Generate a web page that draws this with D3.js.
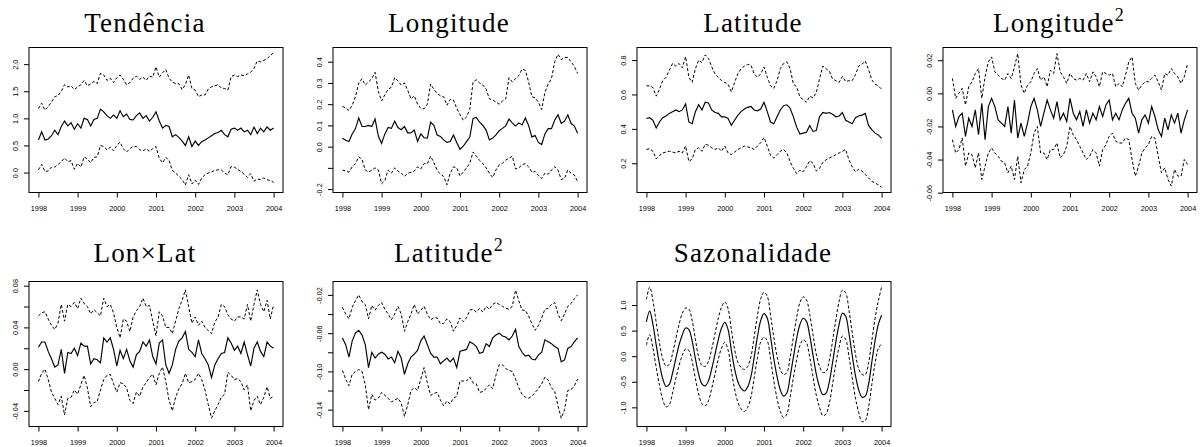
<!DOCTYPE html>
<html>
<head>
<meta charset="utf-8">
<script src="https://cdn.jsdelivr.net/npm/d3@7"></script>
<style>
  html, body { margin: 0; padding: 0; background: #fff; }
  svg { display: block; opacity: 0.999; }
  .title { font-family: "Liberation Serif", "Times New Roman", serif; font-size: 27px; letter-spacing: 1.2px; fill: #000; }
  .tick text { font-family: "Liberation Sans", Arial, Helvetica, sans-serif; font-size: 7.3px; fill: #000; }
  .tick line { stroke: #000; }
</style>
</head>
<body>
<svg id="chart" width="1201" height="447"></svg>
<script>
// Monthly estimates, Jan 1998 .. Jan 2004 (73 values per series)

// Tendência
const trendFit = [0.60,0.75,0.60,0.62,0.68,0.78,0.70,0.85,0.95,0.86,
  0.92,0.80,0.90,0.82,1.00,0.98,0.86,0.98,1.00,1.17,
  1.12,1.05,1.00,1.06,1.00,1.14,1.03,1.08,0.98,0.97,
  1.05,1.10,1.00,1.05,0.95,1.02,1.12,0.95,0.82,0.87,
  0.85,0.66,0.70,0.65,0.58,0.50,0.66,0.48,0.58,0.50,
  0.57,0.60,0.64,0.68,0.72,0.74,0.78,0.70,0.66,0.80,
  0.82,0.78,0.82,0.75,0.78,0.70,0.84,0.72,0.82,0.75,
  0.84,0.78,0.82];
const trendUpper = [1.18,1.28,1.15,1.22,1.30,1.40,1.42,1.50,1.62,1.58,
  1.60,1.53,1.58,1.62,1.70,1.60,1.64,1.68,1.64,1.83,
  1.80,1.70,1.74,1.66,1.75,1.80,1.72,1.62,1.66,1.74,
  1.78,1.72,1.76,1.70,1.78,1.76,1.95,1.76,1.84,1.90,
  1.74,1.67,1.64,1.64,1.53,1.62,1.80,1.55,1.52,1.40,
  1.43,1.43,1.54,1.58,1.60,1.62,1.56,1.55,1.52,1.77,
  1.80,1.77,1.80,1.79,1.82,1.85,1.92,2.06,2.04,2.07,
  2.10,2.16,2.21];
const trendLower = [0.05,0.15,0.02,0.03,0.10,0.10,0.15,0.20,0.27,0.20,
  0.22,0.06,0.17,0.10,0.29,0.25,0.18,0.28,0.29,0.50,
  0.48,0.42,0.47,0.40,0.50,0.56,0.44,0.38,0.44,0.48,
  0.48,0.42,0.40,0.44,0.39,0.44,0.48,0.26,0.18,0.28,
  0.22,0.04,-0.01,-0.07,-0.13,-0.23,-0.04,-0.21,-0.14,-0.22,
  -0.10,-0.04,-0.01,0.01,0.04,0.05,0.05,-0.01,-0.04,0.11,
  0.10,0.06,0.02,-0.03,-0.09,-0.02,-0.16,-0.12,-0.13,-0.10,
  -0.13,-0.15,-0.18];

// Longitude
const lonFit = [0.040,0.030,0.024,0.060,0.085,0.135,0.095,0.095,0.100,0.095,
  0.130,0.050,0.015,0.060,0.090,0.086,0.120,0.090,0.080,0.095,
  0.065,0.065,0.078,0.025,0.060,0.042,0.040,0.115,0.100,0.055,
  0.048,0.032,0.020,0.024,0.055,0.020,-0.012,0.002,0.024,0.045,
  0.133,0.138,0.115,0.100,0.078,0.032,0.040,0.055,0.075,0.086,
  0.098,0.130,0.112,0.097,0.112,0.102,0.135,0.100,0.046,0.052,
  0.020,0.010,0.060,0.085,0.085,0.125,0.150,0.110,0.120,0.150,
  0.110,0.097,0.063];
const lonUpper = [0.190,0.182,0.170,0.195,0.235,0.300,0.320,0.290,0.305,0.320,
  0.350,0.260,0.215,0.245,0.270,0.280,0.325,0.310,0.290,0.300,
  0.265,0.225,0.240,0.200,0.180,0.178,0.200,0.295,0.270,0.250,
  0.240,0.235,0.195,0.222,0.220,0.180,0.150,0.125,0.140,0.175,
  0.305,0.315,0.300,0.290,0.270,0.225,0.220,0.210,0.200,0.215,
  0.225,0.325,0.305,0.320,0.335,0.365,0.360,0.305,0.235,0.230,
  0.210,0.175,0.255,0.295,0.320,0.400,0.435,0.410,0.420,0.420,
  0.400,0.378,0.345];
const lonLower = [-0.110,-0.115,-0.120,-0.095,-0.080,-0.048,-0.060,-0.110,-0.120,-0.110,
  -0.100,-0.110,-0.175,-0.160,-0.110,-0.125,-0.100,-0.115,-0.125,-0.140,
  -0.125,-0.122,-0.115,-0.095,-0.105,-0.080,-0.080,-0.045,-0.075,-0.112,
  -0.130,-0.140,-0.180,-0.125,-0.095,-0.100,-0.138,-0.120,-0.100,-0.078,
  -0.025,-0.045,-0.065,-0.080,-0.100,-0.125,-0.145,-0.110,-0.086,-0.078,
  -0.063,-0.055,-0.045,-0.105,-0.100,-0.085,-0.080,-0.095,-0.120,-0.117,
  -0.135,-0.150,-0.125,-0.130,-0.110,-0.095,-0.110,-0.155,-0.150,-0.110,
  -0.125,-0.133,-0.165];

// Latitude
const latFit = [0.460,0.465,0.450,0.405,0.440,0.465,0.475,0.490,0.500,0.510,
  0.500,0.510,0.545,0.440,0.430,0.500,0.540,0.510,0.555,0.550,
  0.510,0.495,0.490,0.470,0.470,0.460,0.420,0.450,0.480,0.500,
  0.515,0.525,0.530,0.510,0.505,0.515,0.555,0.500,0.440,0.430,
  0.470,0.510,0.535,0.540,0.520,0.470,0.410,0.370,0.375,0.380,
  0.420,0.385,0.390,0.470,0.495,0.490,0.495,0.485,0.470,0.475,
  0.495,0.450,0.440,0.430,0.465,0.475,0.480,0.490,0.420,0.395,
  0.375,0.365,0.345];
const latUpper = [0.650,0.650,0.640,0.590,0.630,0.680,0.700,0.740,0.780,0.765,
  0.780,0.755,0.820,0.700,0.670,0.750,0.800,0.785,0.830,0.810,
  0.760,0.720,0.700,0.680,0.670,0.660,0.615,0.670,0.720,0.750,
  0.765,0.775,0.770,0.720,0.700,0.720,0.760,0.700,0.650,0.635,
  0.680,0.750,0.780,0.790,0.750,0.660,0.645,0.585,0.570,0.555,
  0.590,0.580,0.610,0.690,0.765,0.750,0.735,0.690,0.680,0.670,
  0.705,0.675,0.680,0.680,0.715,0.765,0.775,0.795,0.745,0.685,
  0.660,0.650,0.630];
const latLower = [0.280,0.285,0.270,0.225,0.245,0.260,0.265,0.270,0.265,0.260,
  0.270,0.260,0.300,0.210,0.225,0.280,0.290,0.270,0.310,0.305,
  0.290,0.280,0.290,0.270,0.300,0.260,0.250,0.265,0.280,0.290,
  0.300,0.295,0.290,0.280,0.300,0.320,0.350,0.300,0.245,0.230,
  0.250,0.270,0.280,0.260,0.210,0.170,0.140,0.160,0.150,0.180,
  0.215,0.200,0.155,0.170,0.205,0.220,0.230,0.240,0.250,0.260,
  0.270,0.280,0.220,0.180,0.150,0.165,0.155,0.135,0.115,0.095,
  0.085,0.075,0.060];

// Longitude²
const lon2Fit = [-0.010,-0.020,-0.014,-0.012,-0.026,-0.015,-0.020,-0.010,-0.025,-0.006,
  -0.028,-0.008,-0.003,-0.008,-0.016,-0.018,-0.020,-0.008,-0.024,-0.004,
  -0.027,-0.018,-0.026,-0.018,-0.008,-0.003,-0.010,-0.020,-0.012,-0.004,
  -0.010,-0.015,-0.005,-0.016,-0.012,-0.017,-0.003,-0.012,-0.016,-0.011,
  -0.020,-0.010,-0.018,-0.012,-0.016,-0.008,-0.014,-0.007,-0.004,-0.016,
  -0.012,-0.016,-0.010,-0.006,-0.003,-0.012,-0.015,-0.024,-0.016,-0.013,
  -0.018,-0.008,-0.014,-0.022,-0.026,-0.015,-0.022,-0.013,-0.018,-0.012,
  -0.024,-0.016,-0.010];
const lon2Upper = [0.009,-0.003,0.000,0.003,-0.007,0.004,0.007,0.012,0.015,-0.003,
  0.010,0.019,0.022,0.013,0.011,0.009,0.008,0.012,0.009,0.016,
  0.024,0.005,0.000,0.005,0.007,0.012,0.015,0.008,0.010,0.004,
  0.014,0.012,0.024,0.013,0.010,0.006,0.012,0.009,0.008,0.009,
  0.008,0.012,0.007,0.013,0.010,0.004,0.013,0.012,0.011,0.012,
  0.004,0.006,0.004,0.011,0.019,0.022,0.006,0.002,0.005,0.007,
  0.007,0.009,0.011,0.007,0.002,0.012,0.011,0.015,0.012,0.010,
  0.006,0.010,0.018];
const lon2Lower = [-0.028,-0.036,-0.034,-0.027,-0.044,-0.036,-0.037,-0.045,-0.036,-0.052,
  -0.044,-0.036,-0.033,-0.036,-0.038,-0.041,-0.042,-0.048,-0.044,-0.052,
  -0.038,-0.054,-0.046,-0.044,-0.036,-0.024,-0.020,-0.036,-0.036,-0.040,
  -0.034,-0.034,-0.030,-0.039,-0.037,-0.032,-0.020,-0.025,-0.028,-0.032,
  -0.036,-0.040,-0.038,-0.034,-0.036,-0.044,-0.034,-0.031,-0.026,-0.024,
  -0.029,-0.030,-0.030,-0.027,-0.028,-0.040,-0.050,-0.044,-0.036,-0.033,
  -0.031,-0.026,-0.027,-0.038,-0.048,-0.045,-0.052,-0.056,-0.046,-0.050,
  -0.050,-0.040,-0.043];

// Lon×Lat
const lonLatFit = [0.021,0.026,0.026,0.017,0.010,0.002,0.004,0.019,-0.004,0.016,
  0.015,0.020,0.013,0.025,0.022,0.022,0.005,0.010,0.009,0.006,
  0.030,0.026,0.030,0.019,0.003,0.018,0.010,0.019,0.008,0.002,
  0.014,0.017,0.026,0.022,0.028,0.012,0.005,0.025,0.028,0.004,
  -0.004,0.004,0.019,0.027,0.030,0.036,0.019,0.016,0.012,0.028,
  0.015,0.010,0.004,-0.008,0.004,0.010,0.015,0.016,0.030,0.025,
  0.018,0.022,0.015,0.026,0.014,0.003,0.020,0.026,0.017,0.012,
  0.026,0.022,0.020];
const lonLatUpper = [0.051,0.054,0.055,0.048,0.042,0.038,0.044,0.062,0.046,0.062,
  0.060,0.064,0.058,0.068,0.063,0.060,0.053,0.057,0.054,0.051,
  0.068,0.060,0.062,0.054,0.040,0.030,0.048,0.046,0.036,0.050,
  0.056,0.060,0.068,0.060,0.061,0.046,0.032,0.055,0.051,0.040,
  0.040,0.034,0.046,0.058,0.066,0.076,0.060,0.044,0.050,0.042,
  0.046,0.040,0.037,0.034,0.045,0.050,0.062,0.060,0.052,0.048,
  0.046,0.050,0.050,0.048,0.062,0.046,0.062,0.076,0.062,0.055,
  0.066,0.048,0.062];
const lonLatLower = [-0.012,-0.004,0.000,-0.010,-0.022,-0.028,-0.034,-0.026,-0.044,-0.028,
  -0.027,-0.020,-0.024,-0.015,-0.006,-0.018,-0.036,-0.032,-0.031,-0.020,
  -0.010,-0.006,-0.005,-0.014,-0.022,-0.013,-0.014,-0.018,-0.030,-0.033,
  -0.022,-0.026,-0.017,-0.013,-0.008,-0.005,-0.015,-0.004,0.002,-0.012,
  -0.030,-0.040,-0.027,-0.019,-0.014,-0.004,-0.013,-0.012,-0.010,-0.004,
  -0.010,-0.020,-0.034,-0.047,-0.040,-0.034,-0.027,-0.024,-0.003,-0.006,
  -0.010,-0.009,-0.012,-0.020,-0.015,-0.040,-0.030,-0.026,-0.034,-0.027,
  -0.017,-0.028,-0.026];

// Latitude²
const lat2Fit = [-0.065,-0.072,-0.085,-0.068,-0.060,-0.057,-0.062,-0.072,-0.096,-0.080,
  -0.086,-0.082,-0.080,-0.082,-0.087,-0.085,-0.091,-0.079,-0.086,-0.103,
  -0.092,-0.085,-0.082,-0.078,-0.068,-0.063,-0.072,-0.081,-0.085,-0.085,
  -0.092,-0.089,-0.086,-0.090,-0.086,-0.096,-0.079,-0.078,-0.077,-0.069,
  -0.071,-0.074,-0.081,-0.080,-0.071,-0.074,-0.065,-0.062,-0.060,-0.063,
  -0.064,-0.067,-0.063,-0.056,-0.074,-0.080,-0.084,-0.083,-0.087,-0.088,
  -0.083,-0.080,-0.067,-0.069,-0.071,-0.074,-0.076,-0.090,-0.088,-0.076,
  -0.074,-0.069,-0.065];
const lat2Upper = [-0.033,-0.040,-0.045,-0.033,-0.026,-0.020,-0.027,-0.030,-0.045,-0.031,
  -0.036,-0.031,-0.028,-0.035,-0.040,-0.046,-0.040,-0.032,-0.040,-0.058,
  -0.048,-0.040,-0.030,-0.040,-0.036,-0.032,-0.040,-0.046,-0.044,-0.044,
  -0.050,-0.050,-0.045,-0.048,-0.058,-0.052,-0.044,-0.048,-0.044,-0.036,
  -0.035,-0.038,-0.034,-0.038,-0.032,-0.035,-0.030,-0.028,-0.030,-0.032,
  -0.034,-0.035,-0.032,-0.015,-0.026,-0.036,-0.036,-0.042,-0.050,-0.057,
  -0.052,-0.044,-0.035,-0.034,-0.030,-0.028,-0.040,-0.047,-0.040,-0.032,
  -0.029,-0.024,-0.020];
const lat2Lower = [-0.099,-0.108,-0.115,-0.103,-0.100,-0.098,-0.100,-0.114,-0.140,-0.124,
  -0.130,-0.128,-0.122,-0.125,-0.128,-0.132,-0.130,-0.128,-0.133,-0.147,
  -0.135,-0.120,-0.117,-0.120,-0.108,-0.096,-0.112,-0.125,-0.123,-0.122,
  -0.130,-0.136,-0.131,-0.134,-0.128,-0.126,-0.110,-0.110,-0.110,-0.106,
  -0.112,-0.113,-0.122,-0.121,-0.118,-0.114,-0.118,-0.104,-0.093,-0.093,
  -0.097,-0.099,-0.100,-0.108,-0.117,-0.124,-0.127,-0.128,-0.126,-0.122,
  -0.118,-0.113,-0.106,-0.109,-0.117,-0.121,-0.136,-0.149,-0.140,-0.120,
  -0.119,-0.115,-0.108];

// Sazonalidade
const seasonFit = [0.67,0.88,0.62,0.22,-0.15,-0.44,-0.59,-0.55,-0.33,-0.05,
  0.22,0.42,0.55,0.52,0.30,-0.05,-0.35,-0.54,-0.58,-0.48,
  -0.25,0.04,0.32,0.55,0.66,0.52,0.12,-0.25,-0.50,-0.63,
  -0.68,-0.60,-0.40,-0.02,0.38,0.70,0.83,0.74,0.38,-0.05,
  -0.40,-0.66,-0.78,-0.72,-0.40,-0.02,0.35,0.62,0.74,0.68,
  0.40,0.02,-0.35,-0.60,-0.75,-0.72,-0.50,-0.12,0.28,0.62,
  0.84,0.78,0.45,0.02,-0.38,-0.66,-0.80,-0.78,-0.55,-0.12,
  0.30,0.62,0.80];
const seasonUpper = [1.11,1.35,1.08,0.66,0.26,-0.05,-0.19,-0.16,0.05,0.34,
  0.62,0.84,0.94,0.92,0.70,0.33,-0.02,-0.18,-0.20,-0.10,
  0.14,0.44,0.74,0.96,1.06,0.93,0.52,0.13,-0.12,-0.22,
  -0.26,-0.20,-0.01,0.38,0.80,1.12,1.25,1.17,0.80,0.37,
  0.00,-0.26,-0.36,-0.32,-0.02,0.38,0.76,1.05,1.16,1.10,
  0.82,0.42,0.04,-0.20,-0.32,-0.30,-0.08,0.30,0.71,1.07,
  1.29,1.24,0.90,0.46,0.04,-0.25,-0.36,-0.36,-0.14,0.30,
  0.74,1.08,1.35];
const seasonLower = [0.22,0.42,0.16,-0.22,-0.57,-0.85,-0.99,-0.95,-0.72,-0.44,
  -0.18,0.02,0.14,0.11,-0.10,-0.44,-0.74,-0.93,-0.97,-0.87,
  -0.63,-0.35,-0.06,0.16,0.27,0.12,-0.28,-0.64,-0.90,-1.03,
  -1.08,-1.00,-0.80,-0.42,-0.03,0.28,0.37,0.30,-0.05,-0.48,
  -0.83,-1.08,-1.20,-1.13,-0.80,-0.42,-0.07,0.21,0.32,0.26,
  -0.02,-0.40,-0.76,-1.00,-1.16,-1.13,-0.92,-0.54,-0.15,0.18,
  0.39,0.33,0.00,-0.42,-0.82,-1.10,-1.28,-1.26,-1.00,-0.56,
  -0.14,0.15,0.24];

// Axis ticks
const years = [1998, 1999, 2000, 2001, 2002, 2003, 2004];
const months = d3.range(trendFit.length).map(i => 1998 + i / 12);

const panels = [
  { title: "Tendência", fit: trendFit, upper: trendUpper, lower: trendLower,
    yDomain: [-0.368, 2.307], yTicks: [0, 0.5, 1, 1.5, 2], yLabels: ["0.0", "0.5", "1.0", "1.5", "2.0"] },
  { title: "Longitude", fit: lonFit, upper: lonUpper, lower: lonLower,
    yDomain: [-0.216, 0.467], yTicks: [-0.2, -0.1, 0, 0.1, 0.2, 0.3, 0.4],
    yLabels: ["-0.2", "", "0.0", "0.1", "0.2", "0.3", "0.4"] },
  { title: "Latitude", fit: latFit, upper: latUpper, lower: latLower,
    yDomain: [0.030, 0.873], yTicks: [0.2, 0.4, 0.6, 0.8], yLabels: ["0.2", "0.4", "0.6", "0.8"] },
  { title: "Longitude", sup: "2", fit: lon2Fit, upper: lon2Upper, lower: lon2Lower,
    yDomain: [-0.0599, 0.0277], yTicks: [-0.06, -0.04, -0.02, 0, 0.02],
    yLabels: ["-0.06", "-0.04", "-0.02", "0.00", "0.02"] },
  { title: "Lon×Lat", fit: lonLatFit, upper: lonLatUpper, lower: lonLatLower,
    yDomain: [-0.055, 0.084], yTicks: [-0.04, -0.02, 0, 0.02, 0.04, 0.06, 0.08],
    yLabels: ["-0.04", "", "0.00", "", "0.04", "", "0.08"] },
  { title: "Latitude", sup: "2", fit: lat2Fit, upper: lat2Upper, lower: lat2Lower,
    yDomain: [-0.1576, -0.006], yTicks: [-0.14, -0.12, -0.10, -0.08, -0.06, -0.04, -0.02],
    yLabels: ["-0.14", "", "-0.10", "", "-0.06", "", "-0.02"] },
  { title: "Sazonalidade", fit: seasonFit, upper: seasonUpper, lower: seasonLower, smooth: true,
    yDomain: [-1.374, 1.459], yTicks: [-1, -0.5, 0, 0.5, 1], yLabels: ["-1.0", "-0.5", "0.0", "0.5", "1.0"] }
];

// Grid layout: four panels per row
const colLeft = [29, 333, 637, 943];
const rowTop = [47.5, 281.5];
const titleGap = [15.5, 19.5];
const plotW = 254, plotH = 145;

const svg = d3.select("#chart");

const x = d3.scaleLinear().domain([1998 - 0.24, 2004 + 0.24]).range([0, plotW]);

panels.forEach((p, k) => {
  const col = k % 4, row = Math.floor(k / 4);
  const g = svg.append("g").attr("transform", `translate(${colLeft[col]},${rowTop[row]})`);
  const y = d3.scaleLinear().domain(p.yDomain).range([plotH, 0]);

  // title
  const t = g.append("text").attr("class", "title")
    .attr("x", 116).attr("y", -titleGap[row])
    .attr("text-anchor", "middle");
  t.append("tspan").text(p.title);
  if (p.sup) {
    t.append("tspan").attr("dy", -11).style("font-size", "18px").text(p.sup);
  }

  // x axis
  const xa = g.append("g").attr("transform", `translate(0,${plotH})`)
    .call(d3.axisBottom(x).tickValues(years).tickFormat(d3.format("d"))
      .tickSize(5).tickSizeOuter(0).tickPadding(8));
  xa.select(".domain").remove();

  // y axis with labels parallel to the axis
  const ya = g.append("g")
    .call(d3.axisLeft(y).tickValues(p.yTicks).tickFormat((d, i) => p.yLabels[i])
      .tickSize(5).tickSizeOuter(0));
  ya.select(".domain").remove();
  ya.selectAll(".tick text")
    .attr("x", null).attr("dy", "0.35em")
    .attr("text-anchor", "middle")
    .attr("transform", "translate(-13.5,0) rotate(-90)");

  // series
  const line = d3.line()
    .x((d, i) => x(months[i]))
    .y(d => y(d))
    .curve(p.smooth ? d3.curveCatmullRom : d3.curveLinear);

  [p.upper, p.lower].forEach(s => {
    g.append("path").attr("d", line(s))
      .attr("fill", "none").attr("stroke", "#000")
      .attr("stroke-width", 1).attr("stroke-dasharray", "3,2");
  });
  g.append("path").attr("d", line(p.fit))
    .attr("fill", "none").attr("stroke", "#000").attr("stroke-width", 1.15);

  // frame
  g.append("rect").attr("x", 0).attr("y", 0).attr("width", plotW).attr("height", plotH)
    .attr("fill", "none").attr("stroke", "#000").attr("stroke-width", 1);
});
</script>
</body>
</html>
